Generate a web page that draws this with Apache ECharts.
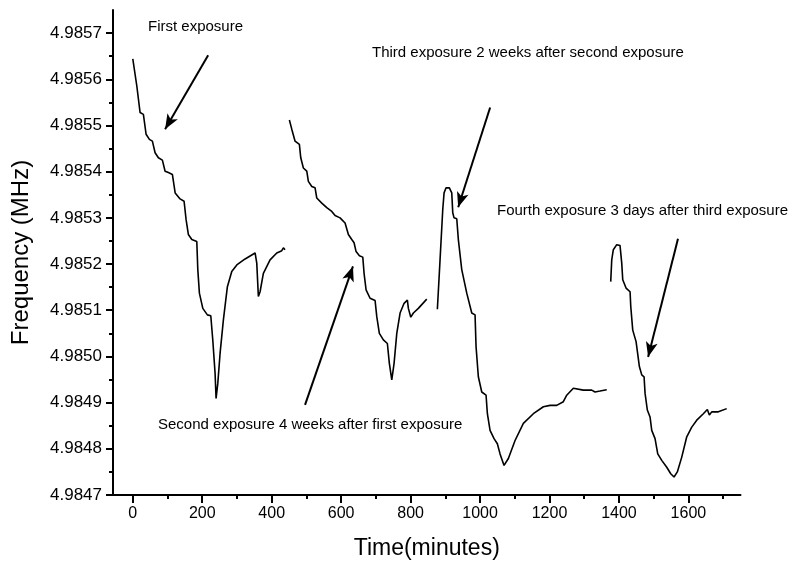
<!DOCTYPE html>
<html>
<head>
<meta charset="utf-8">
<script src="https://cdn.jsdelivr.net/npm/echarts@6/dist/echarts.min.js"></script>
<style>html,body{margin:0;padding:0;background:#fff}#c{width:807px;height:581px}</style>
</head>
<body>
<div id="c"></div>
<script>
// Segment 1 : first exposure
var seg1Time = [0, 11.5, 21, 30.5, 38.3, 47.8, 56.4, 64.2, 73.7, 85.2, 93, 102.5, 114, 122, 136.2, 147.7, 153.5, 160, 170, 184.3, 187.2, 191.8, 201.6, 214.8, 224.6, 230.3, 237, 239.8, 244.7, 251.4, 260.9, 272.4, 285, 299.5, 323.4, 352.2, 357, 361.6, 366.5, 376, 395.3, 414.6, 429, 433.6, 438.5];
var seg1Freq = [4.985644, 4.985586, 4.985528, 4.985524, 4.985481, 4.985470, 4.985466, 4.985441, 4.985430, 4.985425, 4.985401, 4.985398, 4.985394, 4.985354, 4.985341, 4.985336, 4.985296, 4.985264, 4.985253, 4.985249, 4.985188, 4.985137, 4.985104, 4.985090, 4.985088, 4.985036, 4.984963, 4.984909, 4.984941, 4.985007, 4.985079, 4.985151, 4.985184, 4.985198, 4.985211, 4.985224, 4.985202, 4.985130, 4.985140, 4.985180, 4.985209, 4.985224, 4.985229, 4.985235, 4.985231];
// Segment 2 : second exposure
var seg2Time = [450.9, 457.8, 467.3, 479.7, 483.7, 491.2, 501, 505.6, 515.4, 524.9, 529.8, 544.2, 558.6, 573, 582.5, 596.9, 611.3, 616.2, 620.8, 630.6, 637.2, 643, 652.5, 662.3, 666, 671.8, 683.3, 697.7, 702.6, 710, 721.6, 733.1, 738.8, 745.8, 752.4, 760.2, 769.7, 781.2, 790.7, 793.6, 800.5, 808, 822.3, 846.5];
var seg2Freq = [4.985512, 4.985492, 4.985466, 4.985459, 4.985430, 4.985408, 4.985401, 4.985379, 4.985368, 4.985365, 4.985343, 4.985332, 4.985322, 4.985314, 4.985305, 4.985300, 4.985289, 4.985285, 4.985264, 4.985253, 4.985246, 4.985227, 4.985218, 4.985215, 4.985180, 4.985144, 4.985126, 4.985121, 4.985086, 4.985050, 4.985036, 4.985028, 4.984985, 4.984949, 4.984985, 4.985050, 4.985094, 4.985115, 4.985122, 4.985104, 4.985085, 4.985094, 4.985104, 4.985124];
// Segment 3 : third exposure
var seg3Time = [877.1, 884.8, 892.6, 896.4, 902.1, 911.6, 918.5, 921.4, 925.1, 932.9, 937.5, 947.3, 961.7, 976.1, 985.6, 988.5, 995.1, 1004.9, 1017.3, 1021.1, 1028.8, 1040.3, 1049.8, 1057.6, 1069.1, 1081.5, 1100.8, 1124.7, 1153.5, 1182.3, 1201.6, 1220.8, 1239.8, 1249.6, 1268.6, 1297.4, 1321.6, 1331.1, 1345.5, 1364.8];
var seg3Freq = [4.985102, 4.985209, 4.985318, 4.985354, 4.985365, 4.985365, 4.985354, 4.985311, 4.985300, 4.985298, 4.985253, 4.985188, 4.985137, 4.985094, 4.985090, 4.985021, 4.984956, 4.984923, 4.984916, 4.984876, 4.984840, 4.984822, 4.984811, 4.984789, 4.984764, 4.984779, 4.984818, 4.984855, 4.984876, 4.984891, 4.984894, 4.984894, 4.984902, 4.984916, 4.984931, 4.984927, 4.984927, 4.984923, 4.984925, 4.984928];
// Segment 4 : fourth exposure
var seg4Time = [1376.3, 1379.2, 1383.8, 1393.6, 1403.1, 1408, 1410.9, 1420.4, 1432, 1434, 1439.7, 1449.3, 1453, 1458.8, 1465.6, 1472.3, 1475.2, 1481.7, 1489.5, 1494.4, 1503.9, 1511.7, 1523.2, 1537.6, 1549.1, 1558.6, 1568.1, 1580.8, 1595.2, 1609.6, 1624, 1643, 1654.5, 1660.3, 1667.2, 1686.2, 1710.3];
var seg4Freq = [4.985162, 4.985209, 4.985231, 4.985242, 4.985240, 4.985202, 4.985166, 4.985148, 4.985140, 4.985108, 4.985057, 4.985032, 4.985028, 4.984978, 4.984960, 4.984956, 4.984920, 4.984884, 4.984869, 4.984840, 4.984822, 4.984789, 4.984775, 4.984760, 4.984746, 4.984739, 4.984750, 4.984782, 4.984826, 4.984847, 4.984862, 4.984876, 4.984885, 4.984873, 4.984880, 4.984880, 4.984887];

// Axis ticks / labels
var xMajorTicks = [0, 200, 400, 600, 800, 1000, 1200, 1400, 1600];
var xMinorTicks = [100, 300, 500, 700, 900, 1100, 1300, 1500, 1700];
var yMajorTicks = [4.9847, 4.9848, 4.9849, 4.9850, 4.9851, 4.9852, 4.9853, 4.9854, 4.9855, 4.9856, 4.9857];
var yMinorTicks = [4.98475, 4.98485, 4.98495, 4.98505, 4.98515, 4.98525, 4.98535, 4.98545, 4.98555, 4.98565];

// Annotation texts and arrows (arrow tail -> tip, in data coords)
var noteTexts = ['First exposure', 'Third exposure 2 weeks after second exposure', 'Fourth exposure 3 days after third exposure', 'Second exposure 4 weeks after first exposure'];
var arrowTail = [[217, 4.985652], [1029, 4.985539], [1570, 4.985255], [496, 4.984895]];
var arrowTip = [[93, 4.985492], [937, 4.985323], [1484, 4.984999], [634, 4.985195]];

function zip(a, b) { return a.map(function (v, i) { return [v, b[i]]; }); }

var FONT = "'Liberation Sans', Arial, Helvetica, sans-serif";
var chart = echarts.init(document.getElementById('c'), null, { renderer: 'canvas' });

var X_MIN = -57, X_MAX = 1750, Y_MIN = 4.9847, Y_MAX = 4.98575;

var lineStyle = { color: '#000', width: 1.6 };
function seg(data, extra) {
  var s = { type: 'line', data: data, showSymbol: false, symbol: 'none', smooth: false, lineStyle: lineStyle, animation: false, silent: true, xAxisIndex: 0, yAxisIndex: 0 };
  if (extra) for (var k in extra) s[k] = extra[k];
  return s;
}

var arrowData = arrowTail.map(function (t, i) { return [{ coord: t }, { coord: arrowTip[i] }]; });

var notePos = [[148, 27], [372, 53], [497, 211], [158, 425]];

var option = {
  backgroundColor: '#fff',
  animation: false,
  grid: { left: 113, right: 66.5, top: 10, bottom: 86, containLabel: false, outerBoundsMode: 'none' },
  xAxis: [{
    type: 'value', min: X_MIN, max: X_MAX,
    name: 'Time(minutes)', nameLocation: 'middle', nameGap: 42,
    nameTextStyle: { fontSize: 23, color: '#000', fontFamily: FONT },
    axisLine: { show: true, onZero: false, lineStyle: { color: '#000', width: 2 } },
    axisTick: { show: true, inside: false, length: 8, lineStyle: { color: '#000', width: 2 }, customValues: xMajorTicks },
    axisLabel: { show: true, margin: 11, fontSize: 16, color: '#000', fontFamily: "'Liberation Sans Narrow', 'Arial Narrow', " + FONT, customValues: xMajorTicks, formatter: function (v) { return String(v); } },
    splitLine: { show: false }
  }, {
    type: 'value', min: X_MIN, max: X_MAX, position: 'bottom',
    axisLine: { show: false, onZero: false },
    axisTick: { show: true, inside: false, length: 4, lineStyle: { color: '#000', width: 2 }, customValues: xMinorTicks },
    axisLabel: { show: false },
    splitLine: { show: false }
  }],
  yAxis: [{
    type: 'value', min: Y_MIN, max: Y_MAX, position: 'left',
    name: 'Frequency (MHz)', nameLocation: 'middle', nameGap: 80,
    nameTextStyle: { fontSize: 24, color: '#000', fontFamily: FONT },
    axisLine: { show: true, onZero: false, lineStyle: { color: '#000', width: 2 } },
    axisTick: { show: true, inside: false, length: 7, lineStyle: { color: '#000', width: 2 }, customValues: yMajorTicks },
    axisLabel: { show: true, margin: 11, fontSize: 17, color: '#000', fontFamily: FONT, customValues: yMajorTicks, formatter: function (v) { return v.toFixed(4); } },
    splitLine: { show: false }
  }, {
    type: 'value', min: Y_MIN, max: Y_MAX, position: 'left',
    axisLine: { show: false, onZero: false },
    axisTick: { show: true, inside: false, length: 4, lineStyle: { color: '#000', width: 2 }, customValues: yMinorTicks },
    axisLabel: { show: false },
    splitLine: { show: false }
  }],
  series: [
    seg(zip(seg1Time, seg1Freq), {
      markLine: {
        silent: true, animation: false,
        symbol: ['none', 'arrow'], symbolSize: [9, 15],
        label: { show: false },
        lineStyle: { color: '#000', width: 2, type: 'solid' },
        emphasis: { disabled: true },
        data: arrowData
      }
    }),
    seg(zip(seg2Time, seg2Freq)),
    seg(zip(seg3Time, seg3Freq)),
    seg(zip(seg4Time, seg4Freq))
  ],
  graphic: noteTexts.map(function (t, i) {
    return { type: 'text', x: notePos[i][0], y: notePos[i][1], silent: true,
      style: { text: t, font: '15px ' + FONT, fill: '#000', textVerticalAlign: 'middle', verticalAlign: 'middle' } };
  })
};
chart.setOption(option);
</script>
</body>
</html>
